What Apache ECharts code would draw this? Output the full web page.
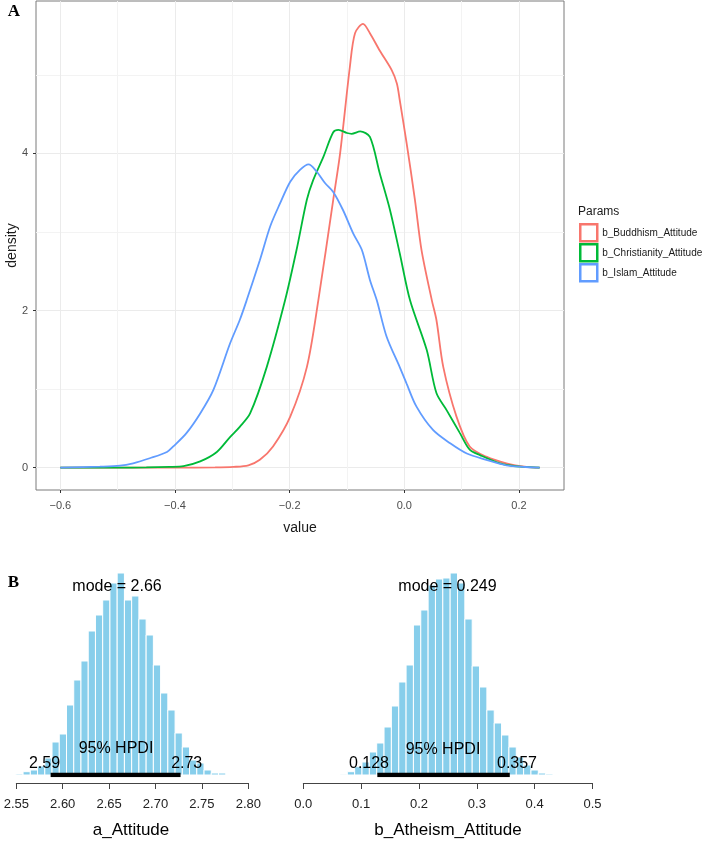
<!DOCTYPE html>
<html><head><meta charset="utf-8">
<script src="https://cdn.jsdelivr.net/npm/echarts@6/dist/echarts.min.js"></script>
<style>html,body{margin:0;padding:0;background:#fff}#c{width:708px;height:841px}</style>
</head><body><div id="c"></div>
<script>
// ---------- Panel A: posterior densities ----------
const seriesNames = ['b_Buddhism_Attitude', 'b_Christianity_Attitude', 'b_Islam_Attitude'];
const seriesColors = ['#F8766D', '#00BA38', '#619CFF'];
const xMajorTicks = [-0.6, -0.4, -0.2, 0.0, 0.2];
const xMinorTicks = [-0.5, -0.3, -0.1, 0.1];
const yMajorTicks = [0, 2, 4];
const yMinorTicks = [1, 3, 5];

const buddhismX = [-0.6,-0.5,-0.4,-0.33,-0.298,-0.272,-0.252,-0.229,-0.199,-0.17,-0.15,-0.124,-0.112,-0.095,-0.086,-0.072,-0.06,-0.043,-0.022,-0.013,-0.008,0.004,0.0185,0.03,0.048,0.056,0.068,0.091,0.114,0.143,0.178,0.213,0.236];
const buddhismY = [0,0,0,0.003,0.01,0.03,0.1,0.27,0.65,1.28,2.13,3.41,4.0,5.1,5.53,5.65,5.53,5.31,5.06,4.89,4.68,4.13,3.41,2.77,2.13,1.88,1.28,0.65,0.27,0.14,0.056,0.01,0];

const christianityX = [-0.6,-0.5,-0.45,-0.41,-0.385,-0.356,-0.327,-0.304,-0.287,-0.269,-0.24,-0.208,-0.188,-0.17,-0.159,-0.141,-0.124,-0.115,-0.1,-0.092,-0.077,-0.06,-0.043,-0.025,-0.008,0.01,0.039,0.056,0.074,0.097,0.114,0.132,0.167,0.202,0.236];
const christianityY = [0,0,0.003,0.01,0.02,0.08,0.2,0.39,0.52,0.69,1.28,2.13,2.77,3.41,3.66,3.96,4.27,4.3,4.26,4.25,4.28,4.21,3.75,3.28,2.73,2.13,1.5,0.95,0.73,0.44,0.23,0.16,0.056,0.013,0];

const islamX = [-0.6,-0.531,-0.496,-0.473,-0.444,-0.414,-0.403,-0.38,-0.356,-0.333,-0.304,-0.287,-0.275,-0.252,-0.234,-0.217,-0.199,-0.182,-0.167,-0.153,-0.138,-0.124,-0.107,-0.089,-0.074,-0.06,-0.048,-0.031,-0.008,0.004,0.021,0.05,0.08,0.109,0.143,0.178,0.236];
const islamY = [0,0.013,0.025,0.056,0.12,0.2,0.27,0.44,0.69,0.99,1.58,1.88,2.13,2.64,3.07,3.36,3.64,3.79,3.86,3.77,3.62,3.51,3.28,2.98,2.77,2.39,2.13,1.67,1.28,1.07,0.78,0.48,0.31,0.18,0.1,0.03,0];

// ---------- Panel B: posterior histograms ----------
const aBinStart = 2.5495, aBinWidth = 0.0078;
const aCounts = [1,3.3,5,9,17,33,41,70,95,114,144,160,175,192,202,175,179,156,140,110,82,65,42,28,15,12,5,2,2];
const aTicks = [2.55, 2.60, 2.65, 2.70, 2.75, 2.80];
const aMode = 2.66, aHpdi = [2.587, 2.727], aHpdiLabels = ['2.59', '2.73'];

const bBinStart = 0.0634, bBinWidth = 0.0127;
const bCounts = [0.7,3.3,8.3,13,23,32,48,69,93,110,150,165,190,196,197,202,192,156,109,88,65,52,40,28,18,10,5,2,1];
const bTicks = [0.0, 0.1, 0.2, 0.3, 0.4, 0.5];
const bMode = 0.249, bHpdi = [0.128, 0.357], bHpdiLabels = ['0.128', '0.357'];

const zip = (xs, ys) => xs.map((x, i) => [x, ys[i]]);
const bins = (start, w, counts) => counts.map((c, i) => [start + i * w, start + (i + 1) * w, c]);

const FONT = 'Liberation Sans, Arial, sans-serif';
const chart = echarts.init(document.getElementById('c'), null, {renderer: 'canvas'});

function histItem(params, api) {
  const p0 = api.coord([api.value(0), api.value(2)]);
  const p1 = api.coord([api.value(1), 0]);
  return {type: 'rect', shape: {x: p0[0], y: p0[1], width: p1[0] - p0[0], height: p1[1] - p0[1]},
    style: {fill: '#87CEEB', stroke: '#ffffff', lineWidth: 1}};
}

const histAxisCommon = {
  type: 'value',
  position: 'bottom',
  offset: 8,
  axisLine: {show: true, onZero: false, lineStyle: {color: '#444', width: 1}},
  axisTick: {show: true, length: 6, lineStyle: {color: '#444'}},
  splitLine: {show: false},
  axisLabel: {fontSize: 13, color: '#222', fontFamily: FONT, margin: 15, showMinLabel: true, showMaxLabel: true}
};

function txt(text, x, y, opts) {
  return {type: 'text', x: x, y: y, silent: true, z: 100, zlevel: 1,
    style: Object.assign({text: text, fill: '#000', font: '16px ' + FONT, textAlign: 'center', textVerticalAlign: 'middle'}, opts || {})};
}

const option = {
  animation: false,
  backgroundColor: '#fff',
  grid: [
    {left: 36, top: 1, width: 528, height: 489, show: true, borderColor: '#7a7a7a', borderWidth: 1, backgroundColor: 'transparent'},
    {left: 16.3, top: 573, width: 232, height: 202},
    {left: 303.3, top: 573, width: 289.2, height: 202}
  ],
  xAxis: [
    {type: 'value', gridIndex: 0, min: -0.6424, max: 0.2785, position: 'bottom',
      axisLine: {show: false, onZero: false},
      axisTick: {show: true, length: 3, lineStyle: {color: '#333'}, customValues: xMajorTicks},
      axisLabel: {customValues: xMajorTicks, fontSize: 11, color: '#4D4D4D', fontFamily: FONT, margin: 10,
        formatter: v => v.toFixed(1).replace('-', '\u2212')},
      splitLine: {show: true, lineStyle: {color: '#EBEBEB', width: 1}}},
    {type: 'value', gridIndex: 0, min: -0.6424, max: 0.2785, position: 'top',
      axisLine: {show: false, onZero: false}, axisLabel: {show: false},
      axisTick: {show: false, customValues: xMinorTicks},
      splitLine: {show: true, lineStyle: {color: '#F3F3F3', width: 1}}},
    Object.assign({}, histAxisCommon, {gridIndex: 1, min: 2.55, max: 2.80, interval: 0.05,
      axisLabel: Object.assign({}, histAxisCommon.axisLabel, {formatter: v => v.toFixed(2)})}),
    Object.assign({}, histAxisCommon, {gridIndex: 2, min: 0, max: 0.5, interval: 0.1,
      axisLabel: Object.assign({}, histAxisCommon.axisLabel, {formatter: v => v.toFixed(1)})})
  ],
  yAxis: [
    {type: 'value', gridIndex: 0, min: -0.284, max: 5.94, position: 'left',
      axisLine: {show: false, onZero: false},
      axisTick: {show: true, length: 3, lineStyle: {color: '#333'}, customValues: yMajorTicks},
      axisLabel: {customValues: yMajorTicks, fontSize: 11, color: '#4D4D4D', fontFamily: FONT, margin: 8},
      splitLine: {show: true, lineStyle: {color: '#EBEBEB', width: 1}}},
    {type: 'value', gridIndex: 0, min: -0.284, max: 5.94, position: 'right',
      axisLine: {show: false, onZero: false}, axisLabel: {show: false},
      axisTick: {show: false, customValues: yMinorTicks},
      splitLine: {show: true, lineStyle: {color: '#F3F3F3', width: 1}}},
    {type: 'value', gridIndex: 1, min: 0, max: 202, show: false},
    {type: 'value', gridIndex: 2, min: 0, max: 202, show: false}
  ],
  legend: {
    orient: 'vertical', left: 579, top: 223, padding: 0, itemWidth: 17, itemHeight: 17, itemGap: 0.5,
    icon: 'rect', selectedMode: false,
    textStyle: {fontSize: 10, color: '#1a1a1a', fontFamily: FONT},
    data: seriesNames.map((n, i) => ({name: n, icon: 'rect',
      itemStyle: {color: '#ffffff', borderColor: seriesColors[i], borderWidth: 2.5}}))
  },
  series: [
    {name: seriesNames[0], type: 'line', xAxisIndex: 0, yAxisIndex: 0, data: zip(buddhismX, buddhismY),
      symbol: 'none', smooth: 0.3, lineStyle: {color: seriesColors[0], width: 1.8}, itemStyle: {color: seriesColors[0]}, z: 5},
    {name: seriesNames[1], type: 'line', xAxisIndex: 0, yAxisIndex: 0, data: zip(christianityX, christianityY),
      symbol: 'none', smooth: 0.3, lineStyle: {color: seriesColors[1], width: 1.8}, itemStyle: {color: seriesColors[1]}, z: 5},
    {name: seriesNames[2], type: 'line', xAxisIndex: 0, yAxisIndex: 0, data: zip(islamX, islamY),
      symbol: 'none', smooth: 0.3, lineStyle: {color: seriesColors[2], width: 1.8}, itemStyle: {color: seriesColors[2]}, z: 5},
    {type: 'custom', xAxisIndex: 2, yAxisIndex: 2, renderItem: histItem, data: bins(aBinStart, aBinWidth, aCounts),
      encode: {x: [0, 1], y: 2}, z: 2},
    {type: 'custom', xAxisIndex: 3, yAxisIndex: 3, renderItem: histItem, data: bins(bBinStart, bBinWidth, bCounts),
      encode: {x: [0, 1], y: 2}, z: 2},
    {type: 'line', xAxisIndex: 2, yAxisIndex: 2, data: [[aHpdi[0], 0], [aHpdi[1], 0]], symbol: 'none',
      lineStyle: {color: '#000', width: 4.5}, z: 4},
    {type: 'line', xAxisIndex: 3, yAxisIndex: 3, data: [[bHpdi[0], 0], [bHpdi[1], 0]], symbol: 'none',
      lineStyle: {color: '#000', width: 4.5}, z: 4}
  ],
  graphic: [
    txt('A', 14, 12, {font: 'bold 17px Liberation Serif, serif'}),
    txt('B', 13.5, 583, {font: 'bold 17px Liberation Serif, serif'}),
    Object.assign(txt('density', 12, 245.5, {font: '14px ' + FONT, fill: '#1a1a1a'}), {rotation: Math.PI / 2}),
    txt('value', 300, 528, {font: '14px ' + FONT, fill: '#1a1a1a'}),
    txt('Params', 578, 212, {font: '12px ' + FONT, fill: '#1a1a1a', textAlign: 'left'}),
    txt('mode = ' + aMode, 117, 587),
    txt('95% HPDI', 116, 749),
    txt(aHpdiLabels[0], 44.5, 764),
    txt(aHpdiLabels[1], 186.7, 764),
    txt('a_Attitude', 131, 830, {font: '17px ' + FONT}),
    txt('mode = ' + bMode, 447.5, 587),
    txt('95% HPDI', 443, 750),
    txt(bHpdiLabels[0], 369, 764),
    txt(bHpdiLabels[1], 517, 764),
    txt('b_Atheism_Attitude', 448, 830, {font: '17px ' + FONT})
  ]
};
chart.setOption(option);
</script>
</body></html>
